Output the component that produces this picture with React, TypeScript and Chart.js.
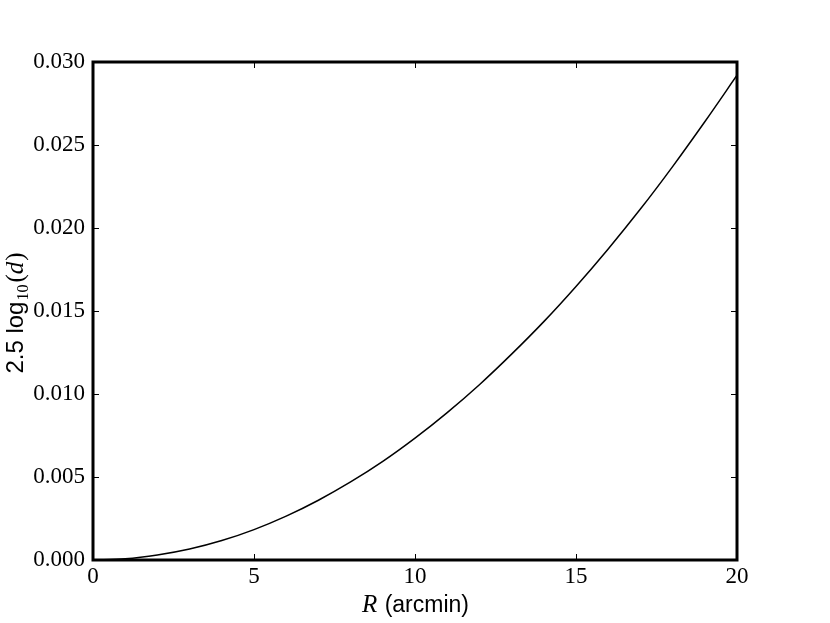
import React, { useEffect, useRef } from "react";
import { Chart, registerables } from "chart.js";

Chart.register(...registerables);

const radius: number[] = [0, 1, 2, 3, 4, 5, 6, 7, 8, 9, 10, 11, 12, 13, 14, 15, 16, 17, 18, 19, 20];
const magnitude: number[] = [
  0, 0.00007, 0.0003, 0.00066, 0.00117, 0.00183, 0.00264, 0.0036, 0.0047, 0.00594,
  0.00734, 0.00888, 0.01056, 0.0124, 0.01436, 0.01648, 0.01874, 0.02114, 0.0237, 0.0264, 0.0292,
];
const xTicks: number[] = [0, 5, 10, 15, 20];
const yTicks: number[] = [0, 0.005, 0.01, 0.015, 0.02, 0.025, 0.03];

const SERIF = "'Liberation Serif', 'DejaVu Serif', serif";
const SANS = "'Liberation Sans', 'DejaVu Sans', sans-serif";

const framePlugin = {
  id: "frame",
  afterDraw(chart: any) {
    const { ctx, chartArea: a, scales } = chart;
    const xs = scales.x;
    const ys = scales.y;
    ctx.save();
    ctx.strokeStyle = "#000";
    ctx.lineWidth = 1;
    const tl = 6;
    for (const v of xTicks) {
      const px = Math.round(xs.getPixelForValue(v)) + 0.5;
      ctx.beginPath();
      ctx.moveTo(px, a.bottom);
      ctx.lineTo(px, a.bottom - tl);
      ctx.moveTo(px, a.top);
      ctx.lineTo(px, a.top + tl);
      ctx.stroke();
    }
    for (const v of yTicks) {
      const py = Math.round(ys.getPixelForValue(v)) + 0.5;
      ctx.beginPath();
      ctx.moveTo(a.left, py);
      ctx.lineTo(a.left + tl, py);
      ctx.moveTo(a.right, py);
      ctx.lineTo(a.right - tl, py);
      ctx.stroke();
    }
    ctx.lineWidth = 3;
    ctx.strokeRect(a.left, a.top, a.right - a.left, a.bottom - a.top);

    // x title
    ctx.fillStyle = "#000";
    ctx.textBaseline = "alphabetic";
    ctx.textAlign = "left";
    const xMid = (a.left + a.right) / 2;
    const rFont = `italic 25px ${SERIF}`;
    const sFont = `23px ${SANS}`;
    ctx.font = rFont;
    const rW = ctx.measureText("R").width;
    ctx.font = sFont;
    const restW = ctx.measureText(" (arcmin)").width;
    const sx = xMid - (rW + restW) / 2;
    const baseY = 612;
    ctx.font = rFont;
    ctx.fillText("R", sx, baseY);
    ctx.font = sFont;
    ctx.fillText(" (arcmin)", sx + rW + 1, baseY);

    // y title (rotated)
    const yMid = (a.top + a.bottom) / 2 + 2;
    ctx.translate(23, yMid);
    ctx.rotate(-Math.PI / 2);
    const parts: [string, string, number, number][] = [
      ["2.5 log", `24px ${SANS}`, 0, 1],
      ["10", `16px ${SERIF}`, 5, 2],
      ["(", `25px ${SERIF}`, 0, 0],
      ["d", `italic 25px ${SERIF}`, 0, 1],
      [")", `25px ${SERIF}`, 0, 0],
    ];
    let total = 0;
    for (const [t, f, , g] of parts) {
      ctx.font = f;
      total += ctx.measureText(t).width + g;
    }
    let cx = -total / 2;
    for (const [t, f, dy, g] of parts) {
      ctx.font = f;
      ctx.fillText(t, cx, dy);
      cx += ctx.measureText(t).width + g;
    }
    ctx.restore();
  },
};

export default function App() {
  const ref = useRef<HTMLCanvasElement | null>(null);
  useEffect(() => {
    if (!ref.current) return;
    const chart = new Chart(ref.current, {
      type: "line",
      data: {
        datasets: [
          {
            data: radius.map((r, i) => ({ x: r, y: magnitude[i] })),
            borderColor: "#000",
            borderWidth: 1.5,
            pointRadius: 0,
            fill: false,
            cubicInterpolationMode: "monotone",
          },
        ],
      },
      options: {
        animation: false,
        responsive: false,
        maintainAspectRatio: false,
        layout: { padding: { left: 0, top: 62, right: 93, bottom: 0 } },
        plugins: { legend: { display: false }, tooltip: { enabled: false } },
        scales: {
          x: {
            type: "linear",
            min: 0,
            max: 20,
            afterBuildTicks: (s: any) => {
              s.ticks = xTicks.map((v) => ({ value: v }));
            },
            afterFit: (s: any) => {
              s.height = 63;
            },
            grid: { display: false, drawTicks: false },
            border: { display: false },
            ticks: {
              color: "#000",
              font: { family: SERIF, size: 23 },
              padding: 3,
              maxRotation: 0,
              autoSkip: false,
              callback: (v: any) => String(v),
            },
          },
          y: {
            type: "linear",
            min: 0,
            max: 0.03,
            afterBuildTicks: (s: any) => {
              s.ticks = yTicks.map((v) => ({ value: v }));
            },
            afterFit: (s: any) => {
              s.width = 93;
            },
            grid: { display: false, drawTicks: false },
            border: { display: false },
            ticks: {
              color: "#000",
              font: { family: SERIF, size: 23 },
              padding: 8,
              autoSkip: false,
              callback: (v: any) => Number(v).toFixed(3),
            },
          },
        },
      },
      plugins: [framePlugin],
    });
    return () => chart.destroy();
  }, []);
  return (
    <div style={{ position: "absolute", left: 0, top: 0, width: 830, height: 623, background: "#fff" }}>
      <canvas ref={ref} width={830} height={623} style={{ width: 830, height: 623, display: "block" }} />
    </div>
  );
}
